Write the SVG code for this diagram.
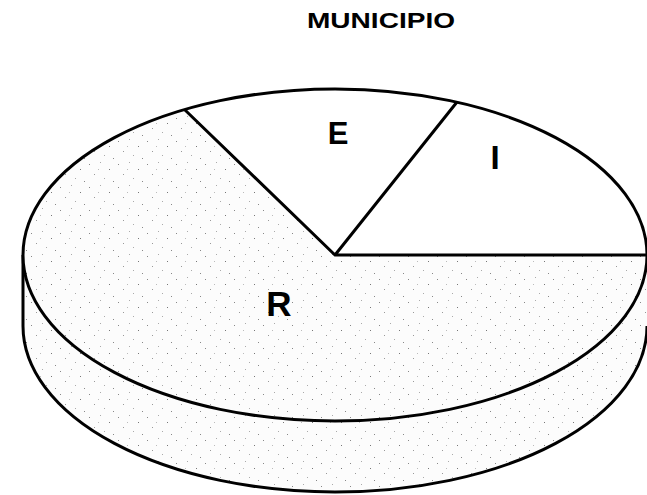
<svg xmlns="http://www.w3.org/2000/svg" width="647" height="495" viewBox="0 0 647 495">
  <style>
    .edge { stroke: #000; stroke-width: 3; stroke-linejoin: round; fill: none; }
    .stip { fill: url(#stipple); }
    .plain { fill: #fff; }
    .lbl { font-family: "Liberation Sans", Arial, sans-serif; font-weight: bold; fill: #000; text-anchor: middle; }
  </style>
  <defs>
    <pattern id="stipple" width="29" height="23" patternUnits="userSpaceOnUse">
      <rect width="29" height="23" fill="#fcfcfc"/>
      <rect x="2" y="3" width="1" height="1" fill="#888"/>
      <rect x="13" y="1" width="1" height="1" fill="#aaa"/>
      <rect x="22" y="8" width="1" height="1" fill="#777"/>
      <rect x="7" y="13" width="1" height="1" fill="#999"/>
      <rect x="17" y="17" width="1" height="1" fill="#aaa"/>
      <rect x="26" y="20" width="1" height="1" fill="#888"/>
      <rect x="11" y="8" width="1" height="1" fill="#bbb"/>
    </pattern>
  </defs>
  <rect width="647" height="495" fill="#fff"/>

  <g id="title">
    <text class="lbl" x="381" y="28" font-size="22" textLength="148" lengthAdjust="spacingAndGlyphs">MUNICIPIO</text>
  </g>

  <g id="side">
    <path class="stip" d="M23 255 V326 A312 166 0 0 0 647 326 V255 A312 166 0 0 1 23 255 Z"/>
    <path class="edge" d="M23 255 V326 A312 166 0 0 0 647 326"/>
  </g>

  <g id="slice-R">
    <path class="stip" d="M335 255 L185 110 A312 166 0 1 0 647 255 Z"/>
    <text class="lbl" x="279" y="316" font-size="35">R</text>
  </g>

  <g id="slice-E">
    <path class="plain" d="M335 255 L457 102 A312 166 0 0 0 185 110 Z"/>
    <text class="lbl" x="338" y="144" font-size="31">E</text>
  </g>

  <g id="slice-I">
    <path class="plain" d="M335 255 L647 255 A312 166 0 0 0 457 102 Z"/>
    <text class="lbl" x="495" y="169" font-size="33">I</text>
  </g>

  <g id="connectors">
    <ellipse class="edge" cx="335" cy="255" rx="312" ry="166"/>
    <path class="edge" d="M185 110 L335 255 L457 102 M335 255 H647"/>
  </g>
</svg>
